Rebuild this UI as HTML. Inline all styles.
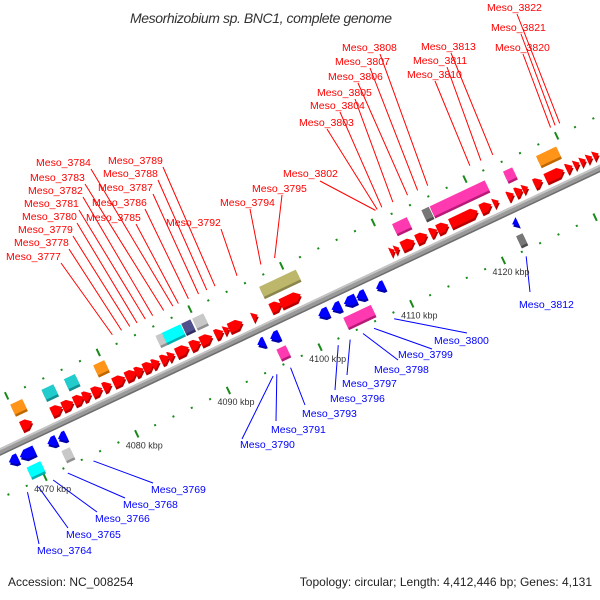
<!DOCTYPE html>
<html><head><meta charset="utf-8"><style>
html,body{margin:0;padding:0;background:#fff;}
svg{display:block;font-family:"Liberation Sans","DejaVu Sans",sans-serif;}
</style></head><body>
<svg id="chart" width="600" height="600" viewBox="0 0 600 600" xmlns="http://www.w3.org/2000/svg">
<rect width="600" height="600" fill="#fff"/>
<text x="130" y="23" font-size="14" font-style="italic" fill="#333" textLength="262">Mesorhizobium sp. BNC1, complete genome</text>
<text x="8" y="586" font-size="12" fill="#222">Accession: NC_008254</text>
<text x="592" y="586" font-size="12" fill="#222" text-anchor="end">Topology: circular; Length: 4,412,446 bp; Genes: 4,131</text>
<g id="labels"></g>
<g id="track" transform="translate(0,452) rotate(-25.3)"></g>
<g id="kbplabels"></g>
</svg>
<script>
// forward row1 genes: centre kbp, length kbp
const fwdCenters=[4070.6,4073.9,4075.1,4076.3,4077.2,4078.3,4079.4,4080.7,4082,4082.9,4083.9,4084.7,4085.7,4086.4,4087.6,4089,4090.2,4091.6,4092.4,4093.4,4095.5,4097.8,4099.4,4110.5,4111,4112.2,4113.7,4115,4116,4118.3,4120.7,4121.8,4123.4,4124.3,4125,4126.4,4128.2,4129.8,4130.6,4131.3,4132,4132.7];
const fwdLens=[1.2,1.2,1.2,1.1,0.9,1.1,0.9,1.3,1.2,0.9,1.1,0.8,0.9,0.7,1.4,1.1,1.3,0.9,0.6,1.5,0.6,1.2,2.2,0.5,0.5,1.4,1.2,0.8,1.2,3.0,1.2,0.6,0.7,0.8,0.6,0.9,2.0,0.7,0.6,0.6,0.6,0.6];
// forward row2 (boxes)
const fwd2Centers=[4070.6,4074,4076.4,4079.6,4086.3,4087.5,4089.1,4090.4,4099.1,4112.4,4115.2,4118.7,4124.2,4128.4];
const fwd2Lens=[1.3,1.3,1.2,1.2,1.0,2.0,1.0,1.2,4.0,1.6,0.8,6.0,1.0,2.2];
const fwd2Types=["orange","teal","teal","orange","gray","cyan","navy","gray","olive","pink","dark","pink","pink","orange"];
// reverse row1
const revCenters=[4067.9,4069.4,4072.1,4073.2,4094.9,4096.4,4101.7,4103.1,4104.6,4105.8,4107.9,4122.6];
const revLens=[1.0,1.6,1.0,0.9,0.8,1.0,1.1,1.0,1.3,1.0,0.9,0.6];
// reverse row2
const rev2Centers=[4069.5,4073,4096.5,4104.8,4122.5];
const rev2Lens=[1.5,0.9,1.0,3.0,0.7];
const rev2Types=["cyan","gray","pink","pink","dark"];
// labels
const redNames=["Meso_3777","Meso_3778","Meso_3779","Meso_3780","Meso_3781","Meso_3782","Meso_3783","Meso_3784","Meso_3785","Meso_3786","Meso_3787","Meso_3788","Meso_3789","Meso_3792","Meso_3794","Meso_3795","Meso_3802","Meso_3803","Meso_3804","Meso_3805","Meso_3806","Meso_3807","Meso_3808","Meso_3810","Meso_3811","Meso_3813","Meso_3820","Meso_3821","Meso_3822"];
const redKbp=[4082,4083,4083.9,4084.7,4085.6,4086.4,4087.6,4088.6,4089.2,4090.3,4091.4,4092.3,4093.2,4095.6,4098.2,4099.7,4110.7,4110.9,4111.4,4112.6,4114.2,4115.3,4116.4,4121,4122.2,4123.5,4129.8,4130.3,4130.8];
// layout: label x, label y, line start dx, line start dy
const redLayout=[[6,256,55,7],[14,242,55,7],[18,229,55,7],[22,216,55,7],[24,203,55,7],[28,190,55,7],[30,177,55,7],[36,162,55,7],[86,217,50,7],[92,202,53,7],[98,187,55,7],[103,173,55,7],[108,160,55,7],[166,222,55,7],[220,202,30,7],[252,188,30,7],[283,173,37,8],[299,122,28,7],[310,105,30,7],[317,92,38,7],[328,76,30,7],[335,61,35,7],[342,47,38,7],[407,74,28,7],[413,60,34,7],[421,46,30,7],[495,47,28,7],[491,27,30,7],[487,7,30,7]];
const blueNames=["Meso_3764","Meso_3765","Meso_3766","Meso_3768","Meso_3769","Meso_3790","Meso_3791","Meso_3793","Meso_3796","Meso_3797","Meso_3798","Meso_3799","Meso_3800","Meso_3812"];
const blueKbp=[4067.8,4069,4070.6,4072.2,4075,4094.6,4095,4096.5,4101.7,4103,4104.4,4105.6,4107.8,4122.2];
const blueLayout=[[37,550,2,-6],[66,534,2,-6],[95,518,2,-6],[123,504,2,-6],[151,489,2,-6],[240,444,2,-5],[271,429,5,-8],[302,413,3,-8],[330,398,5,-8],[342,383,5,-8],[374,369,24,-9],[398,354,34,-5],[434,340,33,-7],[519,304,11,-12]];
const kbpTicks=[4070,4080,4090,4100,4110,4120,4130];

const NS="http://www.w3.org/2000/svg";
const COS=Math.cos(25.3*Math.PI/180), SIN=Math.sin(25.3*Math.PI/180);
const xs=k=>30+(k-4070)*10.14;
const toScreen=(k,ly)=>{const lx=xs(k);return [lx*COS+ly*SIN, 452-lx*SIN+ly*COS];};
const colors={red:["#ff0000","#b80000"],blue:["#0000ff","#0000a8"],orange:["#ff9418","#c06800"],teal:["#22cccc","#109090"],cyan:["#00ffff","#00b0b0"],gray:["#c8c8c8","#909090"],navy:["#50508c","#303060"],olive:["#bdb76b","#8a854a"],pink:["#ff3ab0","#b81a78"],dark:["#777777","#4a4a4a"]};
const track=document.getElementById('track');
function el(tag,attrs,parent){const e=document.createElementNS(NS,tag);for(const k in attrs)e.setAttribute(k,attrs[k]);parent.appendChild(e);return e;}

// backbone
let bb=el('rect',{x:-60,y:-3.5,width:800,height:7,fill:'#9a9a9a'},track);


el('rect',{x:-60,y:-3.5,width:800,height:2,fill:'#c4c4c4'},track);
el('rect',{x:-60,y:2,width:800,height:1.5,fill:'#6e6e6e'},track);

// tick dots
for(let k=4062;k<=4136;k+=2){
  const major=(k%10===0);
  [-48,42].forEach(ly=>{
    let d=el('rect',major?{x:xs(k)-1,y:ly-4,width:2,height:8,fill:'#1a8a1a'}:{x:xs(k)-1,y:ly-1,width:2,height:2,fill:'#1a8a1a'},track);
    
    
  });
}

function gene(c,len,strand,yc,h,type,arrow,name){
  const x0=xs(c-len/2),x1=xs(c+len/2);const w=x1-x0;const head=arrow?Math.min(6,w):0;
  let pts;
  if(strand>0) pts=[[x0,yc-h/2],[x1-head,yc-h/2],[x1,yc],[x1-head,yc+h/2],[x0,yc+h/2]];
  else pts=[[x1,yc-h/2],[x0+head,yc-h/2],[x0,yc],[x0+head,yc+h/2],[x1,yc+h/2]];
  const col=colors[type];
  el('polygon',{points:pts.map(p=>p[0]+','+(p[1]+2.5)).join(' '),fill:col[1]},track);
  let g=el('polygon',{points:pts.map(p=>p.join(',')).join(' '),fill:col[0]},track);
  
  
}
fwdCenters.forEach((c,i)=>gene(c,fwdLens[i],1,-14,10,'red',true,'forward-gene'));
fwd2Centers.forEach((c,i)=>gene(c,fwd2Lens[i],1,-33,11,fwd2Types[i],false,'forward-feature'));
revCenters.forEach((c,i)=>gene(c,revLens[i],-1,13,10,'blue',true,'reverse-gene'));
rev2Centers.forEach((c,i)=>gene(c,rev2Lens[i],-1,31,11,rev2Types[i],false,'reverse-feature'));

// kbp labels
const kl=document.getElementById('kbplabels');
kbpTicks.forEach(k=>{const p=toScreen(k,55);if(p[0]<0||p[0]>600)return;
  let t=el('text',{x:p[0]+2,y:p[1]+3,'font-size':9,fill:'#333','text-anchor':'middle'},kl);
  t.textContent=k+' kbp';
  
  
});

// gene labels
const lg=document.getElementById('labels');
redNames.forEach((n,i)=>{const [x,y,dx,dy]=redLayout[i];const p=toScreen(redKbp[i],-58);
  el('line',{x1:x+dx,y1:y+dy,x2:p[0],y2:p[1],stroke:'#ff0000','stroke-width':1},lg);
  let t=el('text',{x:x,y:y+4,'font-size':10.5,fill:'#ff0000'},lg);
  t.textContent=n;
  
  
});
blueNames.forEach((n,i)=>{const [x,y,dx,dy]=blueLayout[i];const p=toScreen(blueKbp[i],48);
  el('line',{x1:x+dx,y1:y+dy,x2:p[0],y2:p[1],stroke:'#0000ff','stroke-width':1},lg);
  let t=el('text',{x:x,y:y+4,'font-size':10.5,fill:'#0000ff'},lg);
  t.textContent=n;
  
  
});
</script>
</body></html>
